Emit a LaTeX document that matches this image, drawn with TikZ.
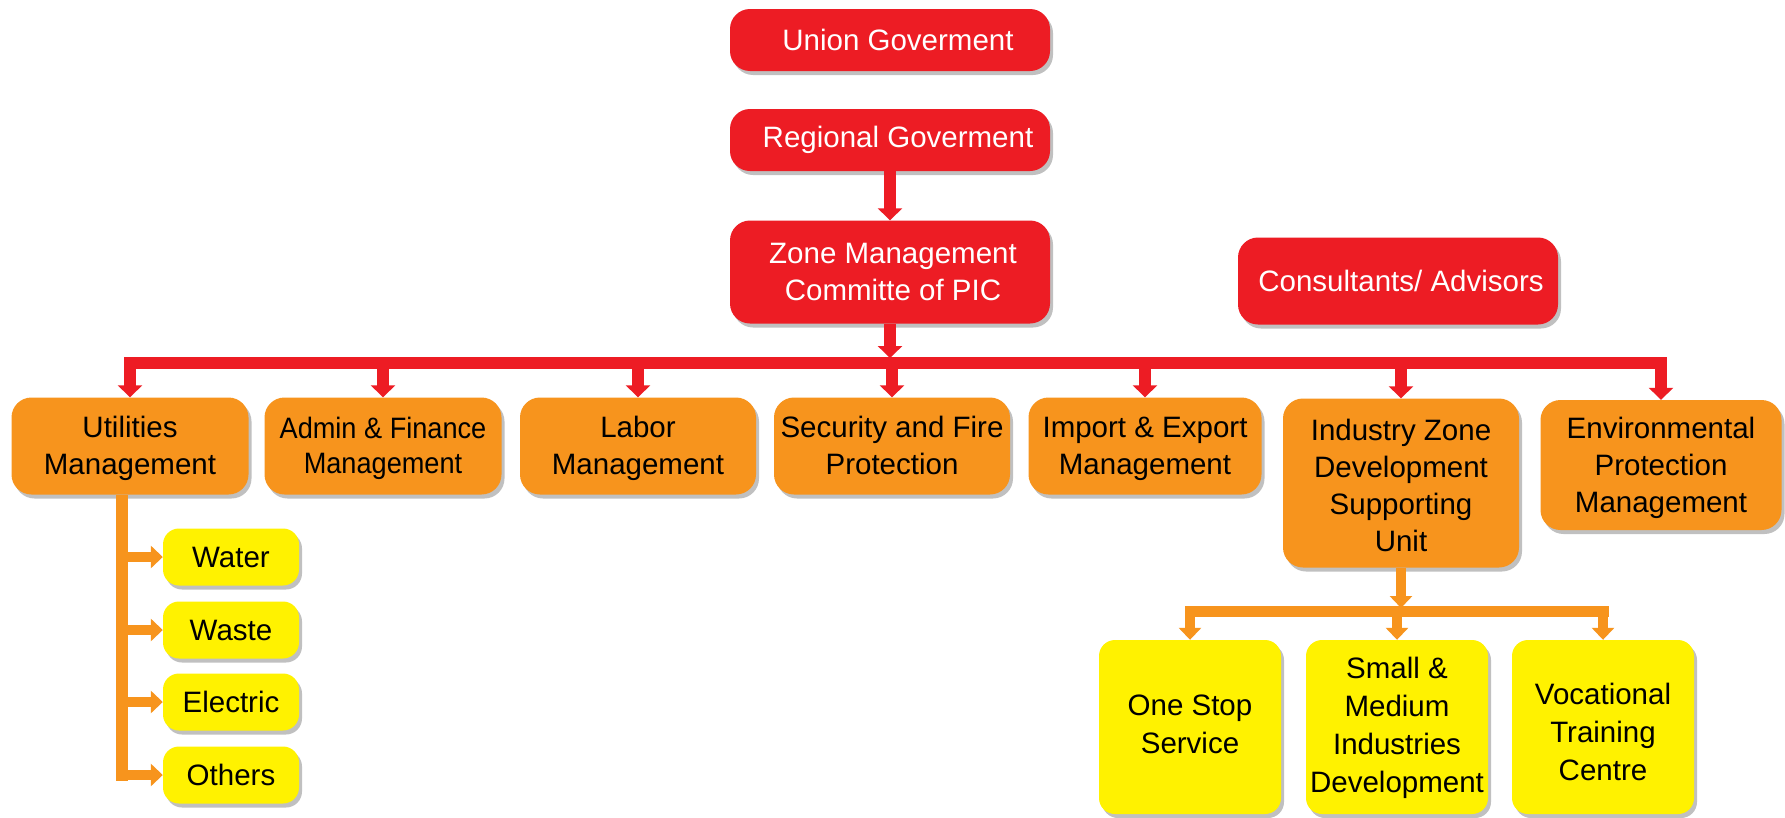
\documentclass[tikz,border=0pt]{standalone}
\usepackage{fontspec}
\setmainfont{Liberation Sans}
\newfontfamily\condfont{Liberation Sans}[FakeStretch=0.92]
\usetikzlibrary{arrows.meta,shadows,calc}
\definecolor{cred}{HTML}{ED1C24}
\definecolor{corange}{HTML}{F7941D}
\definecolor{cyellow}{HTML}{FFF200}
\newcommand{\tx}[2][-3pt]{\raisebox{#1}[\height][\depth]{\begin{tabular}{@{}c@{}}#2\end{tabular}}}
\begin{document}
\begin{tikzpicture}[x=1pt,y=-1pt,
 box/.style={rectangle, rounded corners=20pt, inner sep=0pt, align=center,
   font=\fontsize{29.5}{37}\selectfont,
   drop shadow={shadow xshift=3pt, shadow yshift=-4pt, opacity=0.35, fill=black!70}},
 redbox/.style={box, fill=cred, text=white},
 orgbox/.style={box, fill=corange, text=black},
 yelbox/.style={box, fill=cyellow, text=black, rounded corners=16pt},
 redline/.style={draw=cred, line width=12pt, line cap=rect},
 redarrow/.style={draw=cred, line width=12pt, -{Triangle[width=24pt,length=12pt]}},
 orgline/.style={draw=corange, line width=11pt, line cap=rect},
 orgarrow/.style={draw=corange, line width=10pt, -{Triangle[width=22pt,length=12pt]}}
]
\useasboundingbox (0,0) rectangle (1785,817);
\fill[white] (0,0) rectangle (1785,817);

% top level
\node[redbox, minimum width=320pt, minimum height=62pt] (union) at (890,40) {\hspace*{16pt}Union Goverment};
\node[redbox, minimum width=320pt, minimum height=62pt] (regional) at (890,140) {\hspace*{16pt}Regional Goverment};
\node[redbox, minimum width=320pt, minimum height=103pt] (zone) at (890,272) {\hspace*{6pt}Zone Management\\\hspace*{6pt}Committe of PIC};
\node[redbox, minimum width=320pt, minimum height=87pt] (consult) at (1398,281) {\hspace*{6pt}Consultants/ Advisors};

% second level
\node[orgbox, minimum width=237pt, minimum height=97pt] (util) at (130,446) {\tx{Utilities\\Management}};
\node[orgbox, minimum width=237pt, minimum height=97pt, font=\condfont\fontsize{29.5}{35}\selectfont] (admin) at (383,446) {\tx{Admin \& Finance\\Management}};
\node[orgbox, minimum width=236pt, minimum height=97pt] (labor) at (638,446) {\tx{Labor\\Management}};
\node[orgbox, minimum width=236pt, minimum height=97pt] (sec) at (892,446) {\tx{Security and Fire\\Protection}};
\node[orgbox, minimum width=233pt, minimum height=97pt] (imp) at (1145,446) {\tx{Import \& Export\\Management}};
\node[orgbox, minimum width=236pt, minimum height=169pt] (ind) at (1401,483) {\tx[-6pt]{Industry Zone\\Development\\Supporting\\Unit}};
\node[orgbox, minimum width=241pt, minimum height=130pt] (env) at (1661,465) {\tx{Environmental\\Protection\\Management}};

% utilities children
\node[yelbox, minimum width=136pt, minimum height=57pt] (water) at (231,557) {Water};
\node[yelbox, minimum width=136pt, minimum height=57pt] (waste) at (231,630) {Waste};
\node[yelbox, minimum width=136pt, minimum height=57pt] (electric) at (231,702) {Electric};
\node[yelbox, minimum width=136pt, minimum height=57pt] (others) at (231,775) {Others};

% industry children
\node[yelbox, minimum width=182pt, minimum height=174pt, font=\fontsize{29.5}{38}\selectfont] (onestop) at (1190,727) {\tx[0pt]{One Stop\\Service}};
\node[yelbox, minimum width=182pt, minimum height=174pt, font=\fontsize{29.5}{38}\selectfont] (small) at (1397,727) {\tx[-1pt]{Small \&\\Medium\\Industries\\Development}};
\node[yelbox, minimum width=182pt, minimum height=174pt, font=\fontsize{29.5}{38}\selectfont] (voc) at (1603,727) {\tx[-8pt]{Vocational\\Training\\Centre}};

% red connectors
\coordinate (bus) at (0,363);
\draw[redarrow] (regional.south) -- (zone.north);
\draw[redarrow] (zone.south) -- ($(zone.south |- bus)+(0,-5)$);
\draw[redline] (util.north |- bus) -- (env.north |- bus);
\foreach \n in {util,admin,labor,sec,imp,ind,env}
  \draw[redarrow] (\n.north |- bus) -- (\n.north);

% utilities branch
\coordinate (ustem) at (122,495);
\draw[orgline, line width=12pt, line cap=butt] (ustem) -- ($(ustem |- others.west)+(0,6)$);
\foreach \n in {water,waste,electric,others}
  \draw[orgarrow] (ustem |- \n.west) -- (\n.west);

% industry branch
\coordinate (ibus) at (1400,611);
\draw[orgarrow] (ind.south) -- ($(ind.south |- ibus)+(0,-3)$);
\draw[orgline] (onestop.north |- ibus) -- (voc.north |- ibus);
\foreach \n in {onestop,small,voc}
  \draw[orgarrow] (\n.north |- ibus) -- (\n.north);
\end{tikzpicture}
\end{document}
